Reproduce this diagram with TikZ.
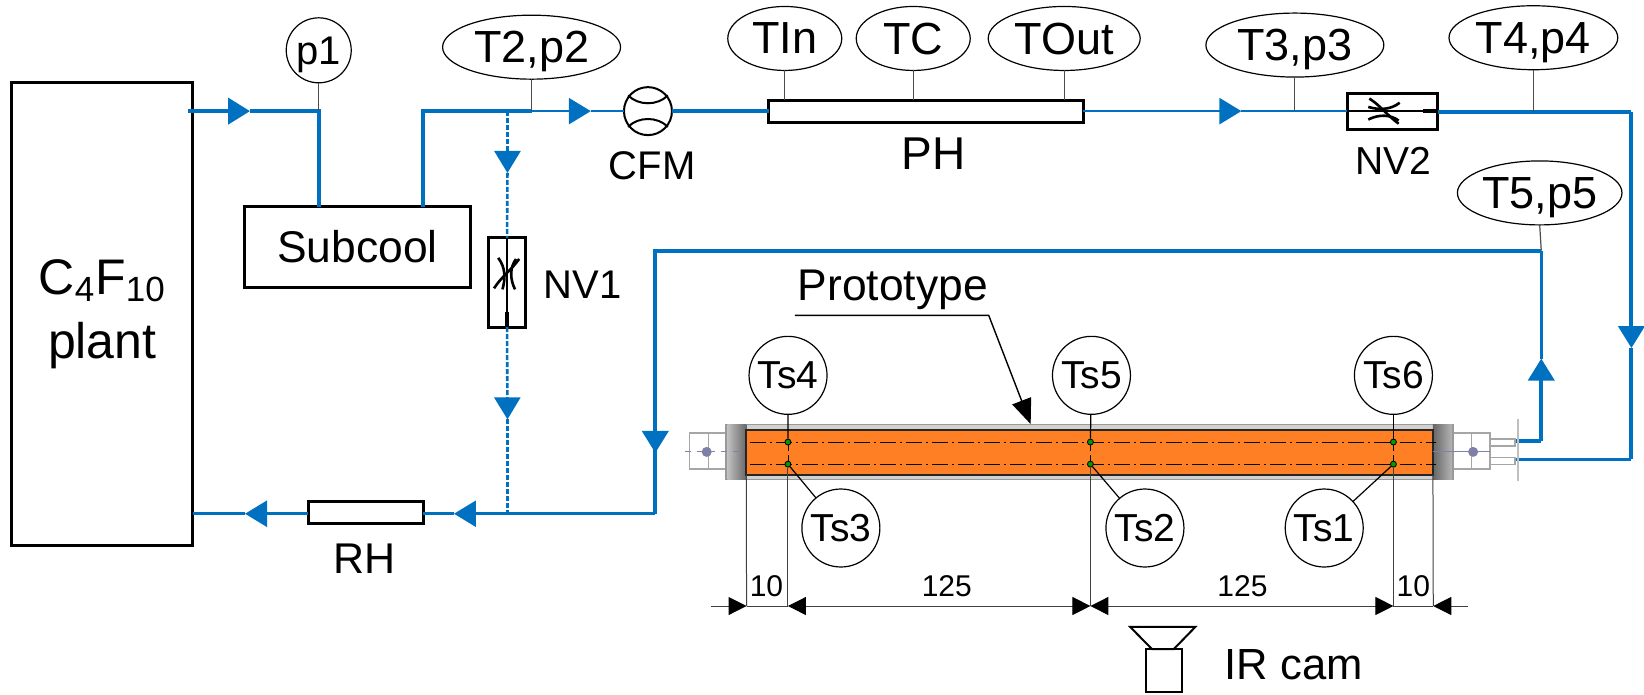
\documentclass[tikz,border=0pt]{standalone}
\usepackage{fontspec}
\setmainfont{Liberation Sans}
\usepackage{tikz}
\usetikzlibrary{arrows.meta, positioning, shapes.geometric}
\definecolor{pipeblue}{HTML}{0070C0}
\definecolor{heater}{HTML}{FF7F24}

\begin{document}
\begin{tikzpicture}[x=0.5243pt, y=-0.5243pt,
      box/.style={draw, line width=1.5pt, inner sep=0pt, outer sep=0pt, align=center},
      sensor/.style={draw, line width=0.6pt, ellipse, inner sep=0pt, outer sep=0pt, fill=white,
                     minimum height=32pt, text depth=0pt, font=\fontsize{22.5}{26}\selectfont},
      probe/.style={draw, line width=0.6pt, circle, inner sep=0pt, outer sep=0pt, fill=white,
                    minimum size=39pt, font=\fontsize{19.5}{23}\selectfont},
      lbl/.style={inner sep=0pt, text depth=0pt, font=\fontsize{20}{24}\selectfont},
      dimlbl/.style={inner sep=0pt, font=\fontsize{15}{18}\selectfont},
      tap/.style={line width=0.6pt, black!70},
      pipe/.style={pipeblue, line width=2pt},
      pipethin/.style={pipeblue, line width=1.3pt},
      pipedash/.style={pipeblue, line width=1.3pt, dash pattern=on 2.5pt off 1pt},
      flow/.style={-{Triangle[length=11pt, width=13pt]}},
      dim/.style={line width=0.5pt, black!75},
      dimhead/.style={-{Triangle[length=9pt, width=9pt, color=black]}},
      dimtip/.style={{Triangle[length=9pt, width=9pt, color=black]}-{Triangle[length=9pt, width=9pt, color=black]}},
      dot/.style={circle, draw=black, line width=0.4pt, fill=green!60!black, minimum size=3pt, inner sep=0pt},
      centreline/.style={line width=0.5pt, dash pattern=on 8pt off 2pt on 1pt off 2pt},
      tab/.style={draw=black!35, line width=0.7pt, fill=white},
      endcap/.style={minimum width=9.4pt, minimum height=27.5pt, inner sep=0pt, outer sep=0pt},
      valve/.pic={
        \draw[line width=1.3pt] (-15,-4) .. controls (-5,-1) and (6,-1) .. (15,-8);
        \draw[line width=1.3pt] (-15,8) .. controls (-5,3) and (6,3) .. (14,9);
        \draw[line width=1.3pt] (-14,-12) .. controls (-3,-5) and (3,4) .. (14,12);
      }]
    \useasboundingbox (0,0) rectangle (1568,662);

    \node[box, minimum width=90.7pt, minimum height=232pt, font=\fontsize{25}{32}\selectfont] (plant) at (97.5,299.5)
        {C\textsubscript{4}F\textsubscript{10}\\plant};
    \node[box, minimum width=113pt, minimum height=40.5pt, font=\fontsize{22.2}{26}\selectfont] (subcool) at (341,235.5) {Subcool};
    \node[box, minimum width=57.7pt, minimum height=11pt] (rh) at (348.8,488.4) {};
    \node[box, minimum width=157.3pt, minimum height=11pt] (ph) at (883,106) {};
    \node[box, minimum width=45.3pt, minimum height=18pt] (nvtwo) at (1328,106) {};
    \node[box, minimum width=18.8pt, minimum height=44.6pt] (nvone) at (483.6,269.5) {};
    \node[draw, line width=1pt, circle, minimum size=24pt, inner sep=0pt, outer sep=0pt] (cfm) at (618,106) {};

    \node[sensor, minimum width=32.5pt, minimum height=32.5pt, font=\fontsize{20}{24}\selectfont] (pone) at (304,48) {p1};
    \node[sensor, minimum width=89pt] (ttwo) at (507,45) {T2,p2};
    \node[sensor, minimum width=57pt] (tin) at (748.5,36.7) {TIn};
    \node[sensor, minimum width=57pt] (tc) at (871,36.7) {TC};
    \node[sensor, minimum width=76pt] (tout) at (1015,36.7) {TOut};
    \node[sensor, minimum width=89pt] (tthree) at (1235,43) {T3,p3};
    \node[sensor, minimum width=84.4pt] (tfour) at (1462.5,36) {T4,p4};
    \node[sensor, minimum width=82.3pt] (tfive) at (1468.5,184) {T5,p5};

    \coordinate (plantout) at (179.5,106);
    \coordinate (flowa) at (238.5,106);
    \coordinate (pjoin) at (304,106);
    \coordinate (subin) at (304,197);
    \coordinate (subout) at (403.5,197);
    \coordinate (subup) at (403.5,106);
    \coordinate (branch) at (484,106);
    \coordinate (flowb) at (563.5,106);
    \coordinate (ttwotap) at (507,106);
    \coordinate (flowc) at (1184,106);
    \coordinate (tthreetap) at (1235,106);
    \coordinate (tfourtap) at (1462.5,107);
    \coordinate (cornerne) at (1556,107);
    \coordinate (flowd) at (1556,332);
    \coordinate (cornerse) at (1556,438);
    \coordinate (protoin) at (1418,438);
    \coordinate (protoout) at (1418,421);
    \coordinate (cornerout) at (1470,421);
    \coordinate (flowe) at (1470,342);
    \coordinate (topright) at (1470,239);
    \coordinate (topleft) at (625,239);
    \coordinate (flowf) at (625,432);
    \coordinate (botright) at (625,490);
    \coordinate (flowg) at (433,490);
    \coordinate (joinlow) at (484,490);
    \coordinate (flowh) at (233.7,490);
    \coordinate (plantback) at (184,490);
    \coordinate (flowi) at (484,165);
    \coordinate (flowj) at (484,400);

    \draw[pipe, flow] (plantout) -- (flowa);
    \draw[pipe] (flowa) -- (pjoin) -- (subin);
    \draw[pipe] (subout) -- (subup) -- (branch) -- (ttwotap);
    \draw[pipethin, flow] (ttwotap) -- (flowb);
    \draw[pipethin] (flowb) -- (cfm.west);
    \draw[pipe] (cfm.east) -- (ph.west);
    \draw[pipethin, flow] (ph.east) -- (flowc);
    \draw[pipethin] (flowc) -- (nvtwo.west);
    \draw[pipe] (nvtwo.east |- cornerne) -- (cornerne);
    \draw[pipe, flow] (cornerne) -- (flowd);
    \draw[pipe] (flowd) -- (cornerse);
    \draw[pipethin] (protoin) -- (cornerse);
    \draw[pipe] (protoout) -- (cornerout);
    \draw[pipe, flow] (cornerout) -- (flowe);
    \draw[pipethin] (flowe) -- (topright);
    \draw[pipe] (topright) -- (topleft) -- (botright);
    \draw[pipe, flow] (topleft) -- (flowf);
    \draw[pipethin, flow] (botright) -- (flowg);
    \draw[pipethin] (flowg) -- (rh.east |- flowg);
    \draw[pipethin, flow] (rh.west |- flowg) -- (flowh);
    \draw[pipethin] (flowh) -- (plantback);
    \draw[pipedash, flow] (branch) -- (flowi);
    \draw[pipedash] (flowi) -- (nvone.north);
    \draw[pipedash, flow] (nvone.south) -- (flowj);
    \draw[pipedash] (flowj) -- (joinlow);

    \draw[tap] (pone.south) -- (pjoin);
    \draw[tap] (ttwo.south) -- (ttwotap);
    \draw[tap] (tin.south) -- (tin.south |- ph.north);
    \draw[tap] (tc.south) -- (tc.south |- ph.north);
    \draw[tap] (tout.south) -- (tout.south |- ph.north);
    \draw[tap] (tthree.south) -- (tthreetap);
    \draw[tap] (tfour.south) -- (tfourtap);
    \draw[tap] (tfive.south) -- (topright);

    \draw[line width=1pt] (599,91) .. controls (609,101) and (627,101) .. (637,91);
    \draw[line width=1pt] (599,121) .. controls (609,111) and (627,111) .. (637,121);

    \draw[line width=0.8pt] (nvone.north) -- (nvone.south);
    \draw[line width=2pt] (483.6,298) -- (483.6,312);
    \pic[rotate=90] at (483.2,261) {valve};
    \draw[line width=0.8pt] (nvtwo.west) -- (nvtwo.east);
    \draw[line width=2pt] (1357,106) -- (1371,106);
    \pic at (1320,106) {valve};

    \node[lbl] (cfmlbl) at (622,158) {CFM};
    \node[lbl, font=\fontsize{23}{27}\selectfont] (phlbl) at (890.5,147) {PH};
    \node[lbl, font=\fontsize{19.5}{23}\selectfont] (nvtwolbl) at (1328.7,153) {NV2};
    \node[lbl, anchor=west] (nvonelbl) at (518,272) {NV1};
    \node[lbl, font=\fontsize{21.5}{25}\selectfont] (rhlbl) at (347.5,533) {RH};
    \node[lbl, font=\fontsize{22.2}{26}\selectfont] (protolbl) at (851.5,272) {Prototype};

    \node[tab, minimum width=19pt, minimum height=18pt, inner sep=0pt] (tableft) at (675.5,430) {};
    \node[tab, minimum width=19pt, minimum height=18pt, inner sep=0pt] (tabright) at (1403,430) {};
    \node[tab, minimum width=12.5pt, minimum height=3.5pt, inner sep=0pt] (fitone) at (1433,422) {};
    \node[tab, minimum width=12.5pt, minimum height=3.5pt, inner sep=0pt] (fittwo) at (1433,439.5) {};
    \node[draw=black!40, fill=black!18, line width=0.8pt, minimum width=363.6pt, minimum height=27.5pt, inner sep=0pt, outer sep=0pt] (housing) at (1039,431) {};
    \node[endcap, left color=black!25, right color=black!60] (capleft) at (703,431) {};
    \node[endcap, left color=black!60, right color=black!30] (capright) at (1375.5,431) {};
    \node[draw=black!85, fill=heater, line width=1pt, minimum width=343.3pt, minimum height=22.7pt, inner sep=0pt, outer sep=0pt] (heated) at (1039.3,431.3) {};
    \draw[black!25, line width=0.8pt] (1448,400) -- (1448,459);
    \draw[blue!40!black!50, line width=0.5pt, dashed] (653,431) -- (705,431);
    \draw[blue!40!black!50, line width=0.5pt] (1367,431) -- (1421,431);
    \draw[black!35, line width=0.5pt] (tableft.north) -- (tableft.south);
    \draw[black!35, line width=0.5pt] (tabright.north) -- (tabright.south);
    \node[circle, fill=blue!30!black!50, minimum size=5pt, inner sep=0pt] (boltleft) at (674,431) {};
    \node[circle, fill=blue!30!black!50, minimum size=5pt, inner sep=0pt] (boltright) at (1405,431) {};

    \draw[centreline] (715,421.6) -- (1370,421.6);
    \draw[centreline] (715,442.7) -- (1370,442.7);
    \foreach \xpos/\tname in {751.5/a, 1040/b, 1329/c} {
      \node[dot] (dotup\tname) at (\xpos,421.6) {};
      \node[dot] (dotlow\tname) at (\xpos,442.7) {};
      \draw[line width=0.4pt, densely dashed] (dotup\tname) -- (dotlow\tname);
    }

    \node[probe] (tsfour) at (751.6,358) {Ts4};
    \node[probe] (tsfive) at (1041,358) {Ts5};
    \node[probe] (tssix) at (1329,358) {Ts6};
    \node[probe] (tsthree) at (802,503.6) {Ts3};
    \node[probe] (tstwo) at (1092,503.6) {Ts2};
    \node[probe] (tsone) at (1263,503.6) {Ts1};
    \draw[tap, black] (tsfour) -- (dotupa);
    \draw[tap, black] (tsfive) -- (dotupb);
    \draw[tap, black] (tssix) -- (dotupc);
    \draw[tap, black] (tsthree) -- (dotlowa);
    \draw[tap, black] (tstwo) -- (dotlowb);
    \draw[tap, black] (tsone) -- (dotlowc);

    \coordinate (leaderstart) at (758,300.8);
    \coordinate (leaderknee) at (943,300.8);
    \coordinate (leadertip) at (983,404.5);
    \draw[line width=0.7pt, -{Triangle[length=12.5pt, width=10pt]}] (leaderstart) -- (leaderknee) -- (leadertip);

    \coordinate (dimstart) at (678,578);
    \coordinate (dima) at (712,578);
    \coordinate (dimb) at (751.5,578);
    \coordinate (dimc) at (1040,578);
    \coordinate (dimd) at (1329,578);
    \coordinate (dime) at (1367,578);
    \coordinate (dimend) at (1400,578);
    \draw[dim] (heated.south west) -- (dima);
    \draw[dim] (dotlowa) -- (dimb);
    \draw[dim] (dotlowb) -- (dimc);
    \draw[dim] (dotlowc) -- (dimd);
    \draw[dim] (heated.south east) -- (dime);
    \draw[dim, dimhead] (dimstart) -- (dima);
    \draw[dim] (dima) -- (dimb);
    \draw[dim, dimtip] (dimb) -- (dimc);
    \draw[dim, dimtip] (dimc) -- (dimd);
    \draw[dim] (dimd) -- (dime);
    \draw[dim, dimhead] (dimend) -- (dime);
    \node[dimlbl] (dimten) at (731,559) {10};
    \node[dimlbl] (dimone) at (903,559) {125};
    \node[dimlbl] (dimtwo) at (1185,559) {125};
    \node[dimlbl] (dimtenb) at (1348,559) {10};

    \draw[line width=1pt] (1078,598) -- (1140,598) -- (1119.6,619) -- (1098.6,619) -- cycle;
    \node[draw, line width=1.2pt, minimum width=18pt, minimum height=21.5pt, inner sep=0pt, outer sep=0pt] (cambody) at (1110,639.6) {};
    \node[lbl, font=\fontsize{21.8}{25}\selectfont] (camlbl) at (1234,633.5) {IR cam};
\end{tikzpicture}
\end{document}
